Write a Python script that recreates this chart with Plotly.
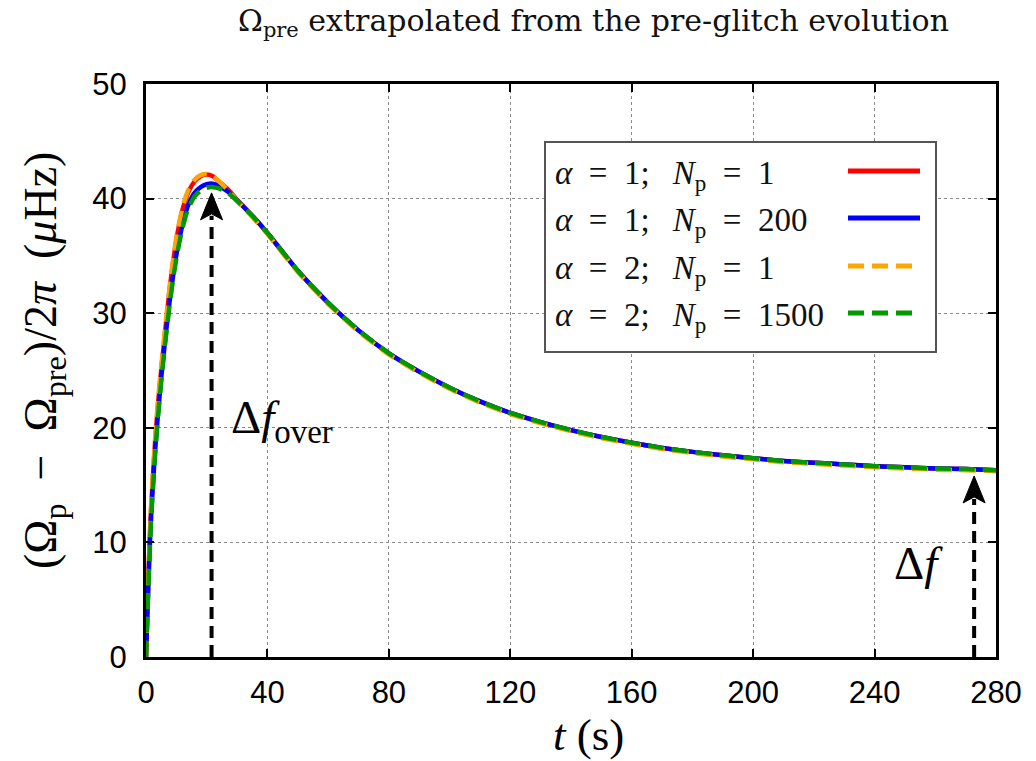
import plotly.graph_objects as go

# ---- data -----------------------------------------------------------------
t_rise = [0, 0.5, 1, 1.5, 2, 3, 4, 5, 6, 7, 8, 9, 10, 11, 12, 13, 14, 16, 18,
          20, 22, 24, 27, 30, 35, 40]
t_tail = [50, 60, 70, 80, 90, 100, 110, 120, 130, 140, 150, 160, 170, 180,
          190, 200, 210, 220, 230, 240, 250, 260, 270, 280]

red_rise = [0, 4.5, 8.5, 12.0, 14.5, 18.8, 22.2, 25.0, 27.6, 30.2, 32.6, 34.6,
            36.4, 37.8, 39.0, 39.9, 40.6, 41.5, 41.95, 42.1, 41.95, 41.5,
            40.8, 39.9, 38.5, 37.0]
blue_rise = [0, 4.2, 8.0, 11.3, 13.8, 18.0, 21.4, 24.3, 26.9, 29.3, 31.5, 33.4,
             35.1, 36.5, 37.7, 38.7, 39.5, 40.5, 41.0, 41.25, 41.3, 41.1,
             40.6, 39.85, 38.5, 37.0]
orange_rise = [0, 4.7, 8.8, 12.3, 14.8, 19.1, 22.5, 25.3, 27.9, 30.4, 32.8,
               34.8, 36.6, 38.0, 39.2, 40.1, 40.8, 41.65, 42.05, 42.15, 41.95,
               41.5, 40.75, 39.8, 38.4, 36.9]
green_rise = [0, 4.0, 7.7, 11.0, 13.5, 17.7, 21.1, 24.0, 26.6, 29.0, 31.2, 33.1,
              34.8, 36.2, 37.4, 38.4, 39.2, 40.2, 40.7, 40.95, 41.0, 40.9,
              40.5, 39.8, 38.5, 37.0]

tail_a1 = [33.7, 30.9, 28.5, 26.5, 24.9, 23.5, 22.3, 21.3, 20.5, 19.8, 19.2,
           18.7, 18.25, 17.9, 17.6, 17.35, 17.1, 16.95, 16.8, 16.65, 16.55,
           16.45, 16.4, 16.3]
tail_a2 = [33.6, 30.8, 28.4, 26.4, 24.8, 23.4, 22.2, 21.2, 20.4, 19.7, 19.1,
           18.6, 18.15, 17.8, 17.5, 17.25, 17.0, 16.85, 16.7, 16.55, 16.45,
           16.35, 16.3, 16.2]

series_names = ["α = 1;  N_p = 1", "α = 1;  N_p = 200",
                "α = 2;  N_p = 1", "α = 2;  N_p = 1500"]
_sp = "\u2002"
_gap = "\u2002\u2009"
series_labels = [
    f"<i>α</i>{_sp}={_sp}1;{_gap}<i>N</i><sub>p</sub>{_sp}={_sp}1",
    f"<i>α</i>{_sp}={_sp}1;{_gap}<i>N</i><sub>p</sub>{_sp}={_sp}200",
    f"<i>α</i>{_sp}={_sp}2;{_gap}<i>N</i><sub>p</sub>{_sp}={_sp}1",
    f"<i>α</i>{_sp}={_sp}2;{_gap}<i>N</i><sub>p</sub>{_sp}={_sp}1500",
]
series_values = [red_rise + tail_a1, blue_rise + tail_a1,
                 orange_rise + tail_a2, green_rise + tail_a1]
series_colors = ["#ff0000", "#0000ff", "#ffa500", "#009a00"]
series_dash = ["solid", "solid", "16px,8px", "16px,8px"]

t_all = t_rise + t_tail

# arrows: Δf_over at the maximum, Δf at the late-time plateau
arrow_t = [21.6, 272.8]
arrow_tip = [40.5, 15.8]
arrow_text = ["Δ<i>f</i><sub>over</sub>", "Δ<i>f</i>"]

x_ticks = [0, 40, 80, 120, 160, 200, 240, 280]
y_ticks = [0, 10, 20, 30, 40, 50]

# ---- layout geometry (pixels) ----------------------------------------------
W, H = 1036, 761
L, R, T, B = 146, 996, 84, 657


def px_x(p):
    return (p - L) / (R - L)


def px_y(p):
    return (B - p) / (B - T)


SERIF = "Liberation Serif"
WIDE_SERIF = "DejaVu Serif"
SANS = "Liberation Sans"

fig = go.Figure()
for name, vals, col, dash in zip(series_names, series_values, series_colors,
                                 series_dash):
    fig.add_trace(go.Scatter(
        x=t_all, y=vals, mode="lines", name=name, showlegend=False,
        line=dict(color=col, width=4.5, dash=dash, shape="spline",
                  smoothing=0.5),
    ))

shapes = []
annotations = []

# dashed arrow shafts with filled heads
px_per_unit = (B - T) / 50.0
head_h = 27
for at, tip in zip(arrow_t, arrow_tip):
    base = tip - (head_h - 4) / px_per_unit
    shapes.append(dict(type="line", xref="x", yref="y", x0=at, x1=at,
                       y0=0, y1=base,
                       line=dict(color="black", width=4, dash="12px,7px")))
    shapes.append(dict(type="path", xref="x", yref="y",
                       xsizemode="pixel", ysizemode="pixel",
                       xanchor=at, yanchor=tip,
                       path="M0,0 L-11,-27 L0,-21 L11,-27 Z",
                       fillcolor="black", line=dict(color="black", width=1)))

# arrow labels
annotations.append(dict(text=arrow_text[0], xref="paper", yref="paper",
                        x=px_x(229), y=px_y(421), xanchor="left",
                        yanchor="middle", showarrow=False,
                        font=dict(family=SERIF, size=47, color="black")))
annotations.append(dict(text=arrow_text[1], xref="paper", yref="paper",
                        x=px_x(892), y=px_y(563), xanchor="left",
                        yanchor="middle", showarrow=False,
                        font=dict(family=SERIF, size=47, color="black")))

# legend box
shapes.append(dict(type="rect", xref="paper", yref="paper",
                   x0=px_x(545), x1=px_x(936), y0=px_y(352), y1=px_y(142),
                   fillcolor="white", line=dict(color="#555555", width=2),
                   layer="above"))
row_y = [175, 222, 270, 317]
for lab, col, dash, ry in zip(series_labels, series_colors, series_dash,
                              row_y):
    annotations.append(dict(text=lab, xref="paper", yref="paper",
                            x=px_x(553), y=px_y(ry), xanchor="left",
                            yanchor="middle", showarrow=False,
                            font=dict(family=SERIF, size=33, color="#111")))
    shapes.append(dict(type="line", xref="paper", yref="paper",
                       x0=px_x(848), x1=px_x(920), y0=px_y(ry - 4),
                       y1=px_y(ry - 4),
                       line=dict(color=col, width=5, dash=dash),
                       layer="above"))

# axis titles
annotations.append(dict(text="<i>t</i> (s)", xref="paper", yref="paper",
                        x=px_x(588), y=px_y(735), xanchor="center",
                        yanchor="middle", showarrow=False,
                        font=dict(family=SERIF, size=45, color="black")))
annotations.append(dict(
    text=("(Ω<sub>p</sub>\u2002−\u2002Ω<sub>pre</sub>)/2<i>π</i>"
          "\u2002(<i>μ</i>Hz)"),
    xref="paper", yref="paper", x=px_x(44), y=px_y(361),
    xanchor="center", yanchor="middle", textangle=-90, showarrow=False,
    font=dict(family=SERIF, size=46, color="black")))

# title
annotations.append(dict(
    text="Ω<sub>pre</sub> extrapolated from the pre-glitch evolution",
    xref="paper", yref="paper", x=px_x(593), y=px_y(23),
    xanchor="center", yanchor="middle", showarrow=False,
    font=dict(family=WIDE_SERIF, size=30, color="#111")))

axis_common = dict(
    showline=True, linecolor="black", linewidth=3, mirror="ticks",
    ticks="inside", ticklen=8, tickwidth=1.5, tickcolor="black",
    showgrid=True, gridcolor="#8a8a8a", gridwidth=1, griddash="dot",
    zeroline=False,
    tickfont=dict(family=SANS, size=31, color="black"),
)

fig.update_layout(
    width=W, height=H,
    margin=dict(l=L, r=W - R, t=T, b=H - B),
    paper_bgcolor="white", plot_bgcolor="white",
    xaxis=dict(range=[0, 280], tickvals=x_ticks,
               ticklabelstandoff=6, **axis_common),
    yaxis=dict(range=[0, 50], tickvals=y_ticks,
               ticklabelstandoff=10, **axis_common),
    shapes=shapes, annotations=annotations,
)

fig.write_html("out.html")
